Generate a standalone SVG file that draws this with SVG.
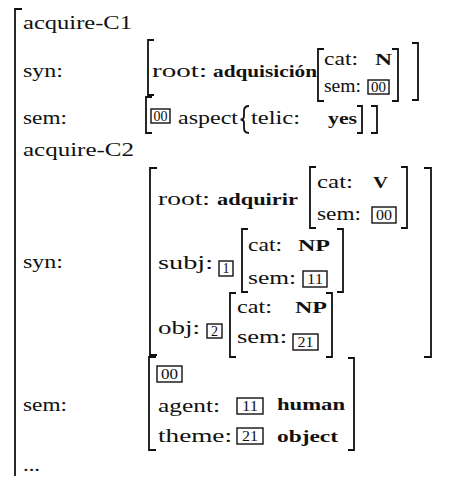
<svg xmlns="http://www.w3.org/2000/svg" width="458" height="477" viewBox="0 0 458 477">
<style>
.t{font-family:"Liberation Serif","Times New Roman",serif;font-size:19px;fill:#111}
.b{font-family:"Liberation Serif","Times New Roman",serif;font-size:16px;font-weight:bold;fill:#111}
.n{font-family:"Liberation Serif","Times New Roman",serif;font-size:14px;fill:#111;text-anchor:middle}
.br{fill:none;stroke:#111;stroke-width:1.8}
.bx{fill:none;stroke:#111;stroke-width:1.4}
</style>
<rect width="458" height="477" fill="#fff"/>

<!-- outer matrix -->
<path class="br" d="M22,9 H15 V476"/>
<text class="t" x="23" y="29" textLength="109" lengthAdjust="spacingAndGlyphs">acquire-C1</text>
<text class="t" x="23" y="77" textLength="40" lengthAdjust="spacingAndGlyphs">syn:</text>
<text class="t" x="23" y="124" textLength="44" lengthAdjust="spacingAndGlyphs">sem:</text>
<text class="t" x="23" y="156" textLength="111" lengthAdjust="spacingAndGlyphs">acquire-C2</text>
<text class="t" x="23" y="268" textLength="40" lengthAdjust="spacingAndGlyphs">syn:</text>
<text class="t" x="23" y="411" textLength="44" lengthAdjust="spacingAndGlyphs">sem:</text>
<text class="t" x="23" y="471" textLength="17" lengthAdjust="spacingAndGlyphs">...</text>

<!-- C1 syn -->
<g id="c1-syn">
<path class="br" d="M154,40 H148 V95 H154"/>
<path class="br" d="M412,43 H418 V100 H412"/>
<text class="t" x="152" y="77" textLength="55" lengthAdjust="spacingAndGlyphs">root:</text>
<text class="b" x="213" y="77" textLength="104" lengthAdjust="spacingAndGlyphs">adquisición</text>
<path class="br" d="M324,49 H318 V101 H324"/>
<path class="br" d="M392,49 H398 V101 H392"/>
<text class="t" x="324" y="65" textLength="34" lengthAdjust="spacingAndGlyphs">cat:</text>
<text class="b" x="375" y="65" textLength="17" lengthAdjust="spacingAndGlyphs">N</text>
<text class="t" x="324" y="92" textLength="37" lengthAdjust="spacingAndGlyphs">sem:</text>
<rect class="bx" x="368" y="80" width="21" height="14"/>
<text class="n" x="378.5" y="92" textLength="15" lengthAdjust="spacingAndGlyphs">00</text>
</g>

<!-- C1 sem -->
<g id="c1-sem">
<path class="br" d="M152,97 H146 V133 H152"/>
<path class="br" d="M371,106 H377 V133 H371"/>
<rect class="bx" x="151" y="109" width="19" height="14"/>
<text class="n" x="160.5" y="121" textLength="14" lengthAdjust="spacingAndGlyphs">00</text>
<text class="t" x="178" y="124" textLength="60" lengthAdjust="spacingAndGlyphs">aspect</text>
<path class="br" d="M249,106 Q244,106 244,111 V116 Q244,119.5 240.5,119.5 Q244,119.5 244,123 V128 Q244,133 249,133"/>
<text class="t" x="251" y="124" textLength="49" lengthAdjust="spacingAndGlyphs">telic:</text>
<text class="b" x="328" y="124" textLength="29" lengthAdjust="spacingAndGlyphs">yes</text>
<path class="br" d="M357,106 H362 V133 H357"/>
</g>

<!-- C2 syn -->
<g id="c2-syn">
<path class="br" d="M157,168 H150 V355 H157"/>
<path class="br" d="M424,168 H431 V357 H424"/>
<text class="t" x="158" y="205" textLength="52" lengthAdjust="spacingAndGlyphs">root:</text>
<text class="b" x="217" y="205" textLength="81" lengthAdjust="spacingAndGlyphs">adquirir</text>
<path class="br" d="M316,167 H310 V228 H316"/>
<path class="br" d="M401,167 H407 V228 H401"/>
<text class="t" x="317" y="188" textLength="36" lengthAdjust="spacingAndGlyphs">cat:</text>
<text class="b" x="373" y="188" textLength="15" lengthAdjust="spacingAndGlyphs">V</text>
<text class="t" x="317" y="220" textLength="44" lengthAdjust="spacingAndGlyphs">sem:</text>
<rect class="bx" x="372" y="207" width="24" height="16"/>
<text class="n" x="384" y="220" textLength="16" lengthAdjust="spacingAndGlyphs">00</text>

<text class="t" x="158" y="269" textLength="55" lengthAdjust="spacingAndGlyphs">subj:</text>
<rect class="bx" x="219" y="261" width="14" height="15"/>
<text class="n" x="226" y="273">1</text>
<path class="br" d="M248,229 H242 V292 H248"/>
<path class="br" d="M337,229 H343 V292 H337"/>
<text class="t" x="248" y="251" textLength="34" lengthAdjust="spacingAndGlyphs">cat:</text>
<text class="b" x="298" y="251" textLength="32" lengthAdjust="spacingAndGlyphs">NP</text>
<text class="t" x="248" y="284" textLength="48" lengthAdjust="spacingAndGlyphs">sem:</text>
<rect class="bx" x="303" y="271" width="24" height="16"/>
<text class="n" x="315" y="284" textLength="16" lengthAdjust="spacingAndGlyphs">11</text>

<text class="t" x="158" y="334" textLength="42" lengthAdjust="spacingAndGlyphs">obj:</text>
<rect class="bx" x="207" y="324" width="15" height="14"/>
<text class="n" x="214.5" y="336">2</text>
<path class="br" d="M236,293 H230 V357 H236"/>
<path class="br" d="M326,293 H332 V357 H326"/>
<text class="t" x="237" y="313" textLength="35" lengthAdjust="spacingAndGlyphs">cat:</text>
<text class="b" x="295" y="313" textLength="32" lengthAdjust="spacingAndGlyphs">NP</text>
<text class="t" x="237" y="343" textLength="50" lengthAdjust="spacingAndGlyphs">sem:</text>
<rect class="bx" x="293" y="334" width="25" height="16"/>
<text class="n" x="305.5" y="347" textLength="16" lengthAdjust="spacingAndGlyphs">21</text>
</g>

<!-- C2 sem -->
<g id="c2-sem">
<path class="br" d="M156,357 H149 V450 H156"/>
<path class="br" d="M348,358 H354 V450 H348"/>
<rect class="bx" x="157" y="366" width="25" height="16"/>
<text class="n" x="169.5" y="379" textLength="17" lengthAdjust="spacingAndGlyphs">00</text>
<text class="t" x="158" y="412" textLength="62" lengthAdjust="spacingAndGlyphs">agent:</text>
<rect class="bx" x="237" y="398" width="26" height="16"/>
<text class="n" x="250" y="411" textLength="16" lengthAdjust="spacingAndGlyphs">11</text>
<text class="b" x="277" y="410" textLength="68" lengthAdjust="spacingAndGlyphs">human</text>
<text class="t" x="158" y="442" textLength="74" lengthAdjust="spacingAndGlyphs">theme:</text>
<rect class="bx" x="237" y="428" width="26" height="16"/>
<text class="n" x="250" y="441" textLength="16" lengthAdjust="spacingAndGlyphs">21</text>
<text class="b" x="277" y="442" textLength="61" lengthAdjust="spacingAndGlyphs">object</text>
</g>
</svg>
